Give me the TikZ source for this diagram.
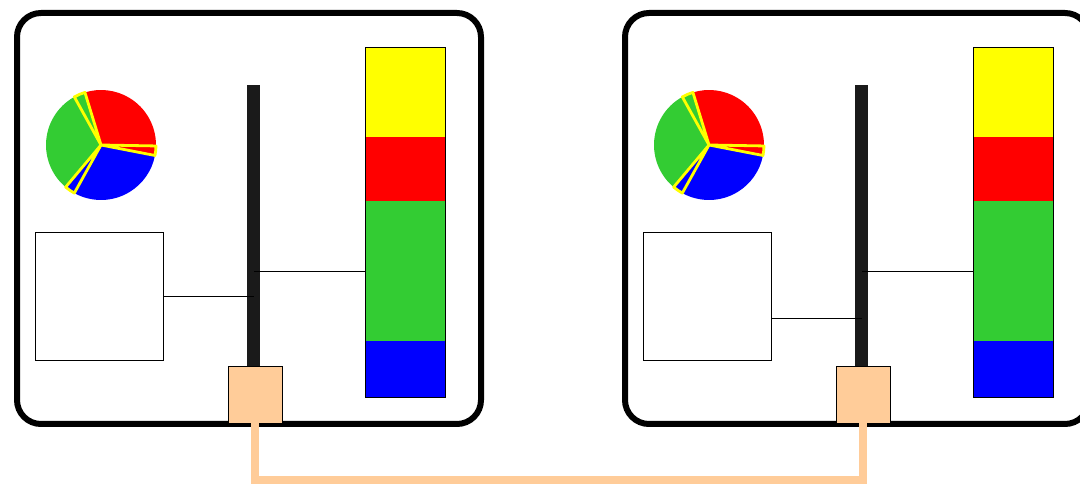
\documentclass[tikz,border=0pt]{standalone}
\usepackage{xcolor}
\usepackage{tikz}
\usetikzlibrary{calc}

\definecolor{leafgreen}{RGB}{51,204,51}
\definecolor{peach}{RGB}{255,204,153}
\definecolor{rail}{RGB}{26,26,26}
\definecolor{sun}{RGB}{255,255,0}
\definecolor{crimson}{RGB}{255,0,0}
\definecolor{deepblue}{RGB}{0,0,255}

\begin{document}
\begin{tikzpicture}[x=1pt,y=1pt,
  frame/.style={draw=black, line width=6pt, rounded corners=24pt},
  sqbox/.style={draw=black, fill=white, line width=0.8pt, minimum size=128pt, inner sep=0pt},
  railbar/.style={fill=rail, minimum width=13pt, minimum height=282pt, inner sep=0pt},
  stackbox/.style={draw=black, line width=0.8pt, minimum width=80pt, minimum height=350pt, inner sep=0pt},
  portbox/.style={draw=black, fill=peach, line width=0.8pt, minimum width=54pt, minimum height=57pt, inner sep=0pt},
  wire/.style={draw=black, line width=0.8pt},
  slicehi/.style={draw=sun, line width=2.8pt, line join=round},
  link/.style={draw=peach, line width=8pt}]

  \useasboundingbox (0,0) rectangle (1080,484);
  \clip (0,0) rectangle (1080,484);

  % ── the two units, same layout, shifted by 608 ─────────────────────
  \foreach \i/\ox/\dy in {L/0/0, R/608/-22} {
    \begin{scope}[xshift=\ox pt]
      \draw[frame] (17,60) rectangle (481,471);

      % pie chart
      \coordinate (pie\i) at (101,339);
      \foreach \a/\b/\c in {-1/107/crimson, 119/230/leafgreen, 241/349/deepblue}
        \fill[\c] (pie\i) -- ++(\a:55) arc[start angle=\a, end angle=\b, radius=55] -- cycle;
      \foreach \a/\b/\c in {107/119/leafgreen, 230/241/deepblue, 349/359/crimson}
        \filldraw[fill=\c, slicehi] (pie\i) -- ++(\a:55) arc[start angle=\a, end angle=\b, radius=55] -- cycle;

      % stacked bar
      \foreach \ya/\yb/\c in {347/437/sun, 283/347/crimson, 143/283/leafgreen, 87/143/deepblue}
        \fill[\c] (365,\ya) rectangle (445,\yb);
      \node[stackbox] (stk\i) at (405,262) {};

      % rail, box and port
      \node[railbar]  (bar\i)  at (253.5,258) {};
      \node[sqbox]    (sq\i)   at (99,188) {};
      \node[portbox]  (port\i) at (255,89.5) {};

      % wires onto the rail
      \coordinate (tapS\i) at ([yshift=\dy pt]sq\i.east);
      \coordinate (tapT\i) at ([yshift=-49pt]stk\i.west);
      \draw[wire] (tapS\i) -- (tapS\i -| bar\i.center);
      \draw[wire] (tapT\i) -- (tapT\i -| bar\i.center);
    \end{scope}
  }

  % ── link between the two ports ──────────────────────────────────────
  \draw[link] (portL.south) -- (portL.south |- 0,4) -| (portR.south);

\end{tikzpicture}
\end{document}
